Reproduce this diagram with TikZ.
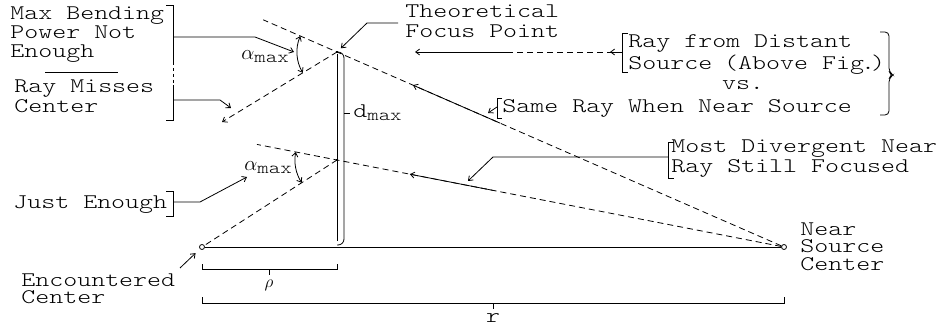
\documentclass[tikz,border=0pt]{standalone}
\usepackage{fontspec}
\newfontfamily\cour{lmmonolt10-regular}[Extension=.otf,FakeStretch=1.28]
\usetikzlibrary{arrows.meta,positioning,calc}
\newcommand{\lowidx}[1]{\raisebox{-0.3ex}{\fontsize{17}{17}\selectfont #1}}
\tikzset{
  >={Straight Barb[length=4pt,width=6pt]},
  lbl/.style={font=\cour\fontsize{20.8}{19}\selectfont,inner sep=0pt,anchor=base west,align=left},
  ray/.style={dash pattern=on 6pt off 4pt},
  hub/.style={circle,draw,fill=white,inner sep=0pt,minimum size=5pt},
  focus/.style={fill,inner sep=0pt,minimum size=2.6pt},
}
\begin{document}
\begin{tikzpicture}[x=1pt,y=-1pt,line width=0.8pt]
\useasboundingbox (0,0) rectangle (938,326);
% centres and focus points
\node[hub] (enc) at (202,247) {};
\node[hub] (src) at (784,247) {};
\node[focus] (fp) at (337,52) {};
\node[focus] (fq) at (337,160) {};
\coordinate (miss) at (222,122);
\draw (enc) -- (src);
% d_max
\draw (fp) -- (337,241);
\draw[rounded corners=6pt] (fp.center) -- (344,52) -- (344,245) -- (337,245);
\draw (344,113) -- (350,113);
\node[lbl] (dmax) at (353,118) {d\lowidx{max}};
% upper ray
\draw[ray] (src) -- (fp.center) -- ($(src)!1.165!(fp)$);
\draw[->] ($(src)!0.635!(fp)$) -- ($(src)!0.83!(fp)$);
\draw[ray,->] (fp.center) -- (miss);
\draw[<->] ($(fp)+(203.5:40)$) arc[start angle=203.5,end angle=148.7,radius=40];
\node[lbl] (amax1) at (241,60) {$\alpha$\lowidx{max}};
% distant ray
\draw[->] (507,52) -- (415,52);
\draw[ray] (507,52) -- (612,52);
% lower ray
\draw[ray] (src) -- (fq.center) -- ($(src)!1.179!(fq)$);
\draw[->] ($(src)!0.651!(fq)$) -- ($(src)!0.837!(fq)$);
\draw[ray] (fq.center) -- (enc);
\draw[<->] ($(fq)+(190.9:42)$) arc[start angle=190.9,end angle=147.2,radius=42];
\node[lbl] (amax2) at (244,171) {$\alpha$\lowidx{max}};

% left labels
\node[lbl] (maxb) at (10,58) {Max Bending\\Power Not\\Enough};
\draw (45,72) -- (118,72);
\node[lbl,font=\cour\fontsize{20.8}{20}\selectfont] (misstxt) at (14,113) {Ray Misses\\Center};
\draw (166,5) -- (173,5) -- (173,62);
\draw[dash pattern=on 3pt off 3pt] (173,62) -- (173,85);
\draw (173,85) -- (173,120) -- (166,120);
\draw[->] (173,37) -- (255,37) -- (294,52);
\draw[->] (173,100) -- (220,100) -- (231,108);
\node[lbl] (just) at (13,208) {Just Enough};
\draw (166,191) -- (173,191) -- (173,216) -- (166,216);
\draw[->] (173,202) -- (200,202) -- (247,177);
\node[lbl,font=\cour\fontsize{20.8}{17}\selectfont] (enctxt) at (21,303) {Encountered\\Center};
\draw[->,shorten >=6pt] (180,268) -- (enc);

% top labels
\node[lbl,font=\cour\fontsize{20.8}{20}\selectfont] (theo) at (405,38) {Theoretical\\Focus Point};
\draw[->,shorten >=3pt] (398,23) -- (367,23) -- (fp);
\node[lbl,font=\cour\fontsize{20.8}{22}\selectfont] (dist) at (628,70) {Ray from Distant\\Source\kern-2pt{} (Above Fig\kern-3pt.\kern-4pt)};
\draw (628,33) -- (622,33) -- (622,72) -- (628,72);
\draw[->] (622,52) -- (610,52);
\node[lbl,anchor=base] (vs) at (743,90) {vs.};
\node[lbl] (near) at (502,113) {Same Ray When Near Source};
\draw (502,98) -- (497,98) -- (497,118) -- (502,118);
\draw[->] (497,107) -- (488,113);
\draw[rounded corners=4pt] (880,32) -- (889,32) -- (889,72) -- (893,75) -- (889,78) -- (889,115) -- (880,115);
\node[lbl,font=\cour\fontsize{20.8}{20}\selectfont] (most) at (671,173) {Most Divergent Near\\Ray Still Focused};
\draw (674,142) -- (668,142) -- (668,178) -- (674,178);
\draw[->] (668,157) -- (493,157) -- (468,181);
\node[lbl,font=\cour\fontsize{20.8}{17.5}\selectfont] (srctxt) at (800,270) {Near\\Source\\Center};

% rho and r
\draw (202,264) -- (202,269) -- (337,269) -- (337,264);
\draw (269,269) -- (269,275);
\node[inner sep=0pt] (rho) at (269,285) {\fontsize{16}{16}\selectfont$\rho$};
\draw (202,297) -- (202,303) -- (784,303) -- (784,297);
\draw (493,303) -- (493,309);
\node[lbl,anchor=base] (rr) at (493,322) {r};
\end{tikzpicture}
\end{document}
